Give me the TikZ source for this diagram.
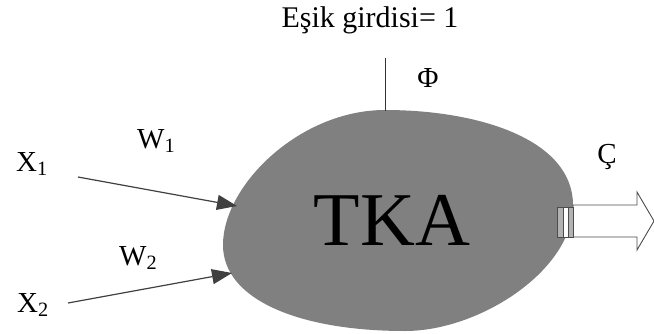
\documentclass[tikz,border=0pt]{standalone}
\usepackage{fontspec}
\setmainfont{Liberation Serif}
\usetikzlibrary{arrows.meta,positioning}

\tikzset{
  etiket/.style={font=\fontsize{29}{32}\selectfont, inner sep=0pt},
  giris/.style={draw=black!75, line width=1.2pt, -{Triangle[length=20pt,width=15pt]}},
  cikis/.style={draw=black!70, fill=white, line width=0.9pt},
}

\begin{document}
\begin{tikzpicture}[x=1pt,y=-1pt]
\useasboundingbox (0,0) rectangle (654,333);
% govde
\fill[black!50] (223,245) .. controls (223,185) and (300,110) .. (385,110)
  .. controls (480,110) and (573,140) .. (573,205)
  .. controls (573,270) and (480,331) .. (405,331)
  .. controls (300,331) and (223,300) .. cycle;
\node[inner sep=0pt, anchor=base, font=\fontsize{76}{76}\selectfont] (tka) at (392,245) {TKA};
% esik
\node[etiket, anchor=base, font=\fontsize{30}{33}\selectfont] (esik) at (370,27) {Eşik girdisi= 1};
\node[etiket, anchor=base] (phi) at (428,87) {Φ};
\coordinate (esikuc) at (385,58);
\coordinate (tepe) at (385,111);
\draw[black!80, line width=0.9pt] (esikuc) -- (tepe);
% girdiler
\node[etiket, anchor=base west] (x1) at (16,171) {X\textsubscript{1}};
\node[etiket, anchor=base west] (w1) at (137,148) {W\textsubscript{1}};
\node[etiket, anchor=base west] (w2) at (119,265) {W\textsubscript{2}};
\node[etiket, anchor=base west] (x2) at (17,312) {X\textsubscript{2}};
\coordinate (x1uc) at (78,177);
\coordinate (x1ok) at (237,206);
\coordinate (x2uc) at (68,303);
\coordinate (x2ok) at (232,273);
\draw[giris] (x1uc) -- (x1ok);
\draw[giris] (x2uc) -- (x2ok);
% cikti
\node[etiket, anchor=base] (c) at (607,163) {Ç};
\draw[cikis] (573,205) -- (637,205) -- (637,192) -- (654,221) -- (637,250)
  -- (637,237) -- (573,237) -- cycle;
\draw[cikis, fill=black!30] (557,207) rectangle (573,237);
\draw[cikis] (563,207) rectangle (568,237);
\end{tikzpicture}
\end{document}
